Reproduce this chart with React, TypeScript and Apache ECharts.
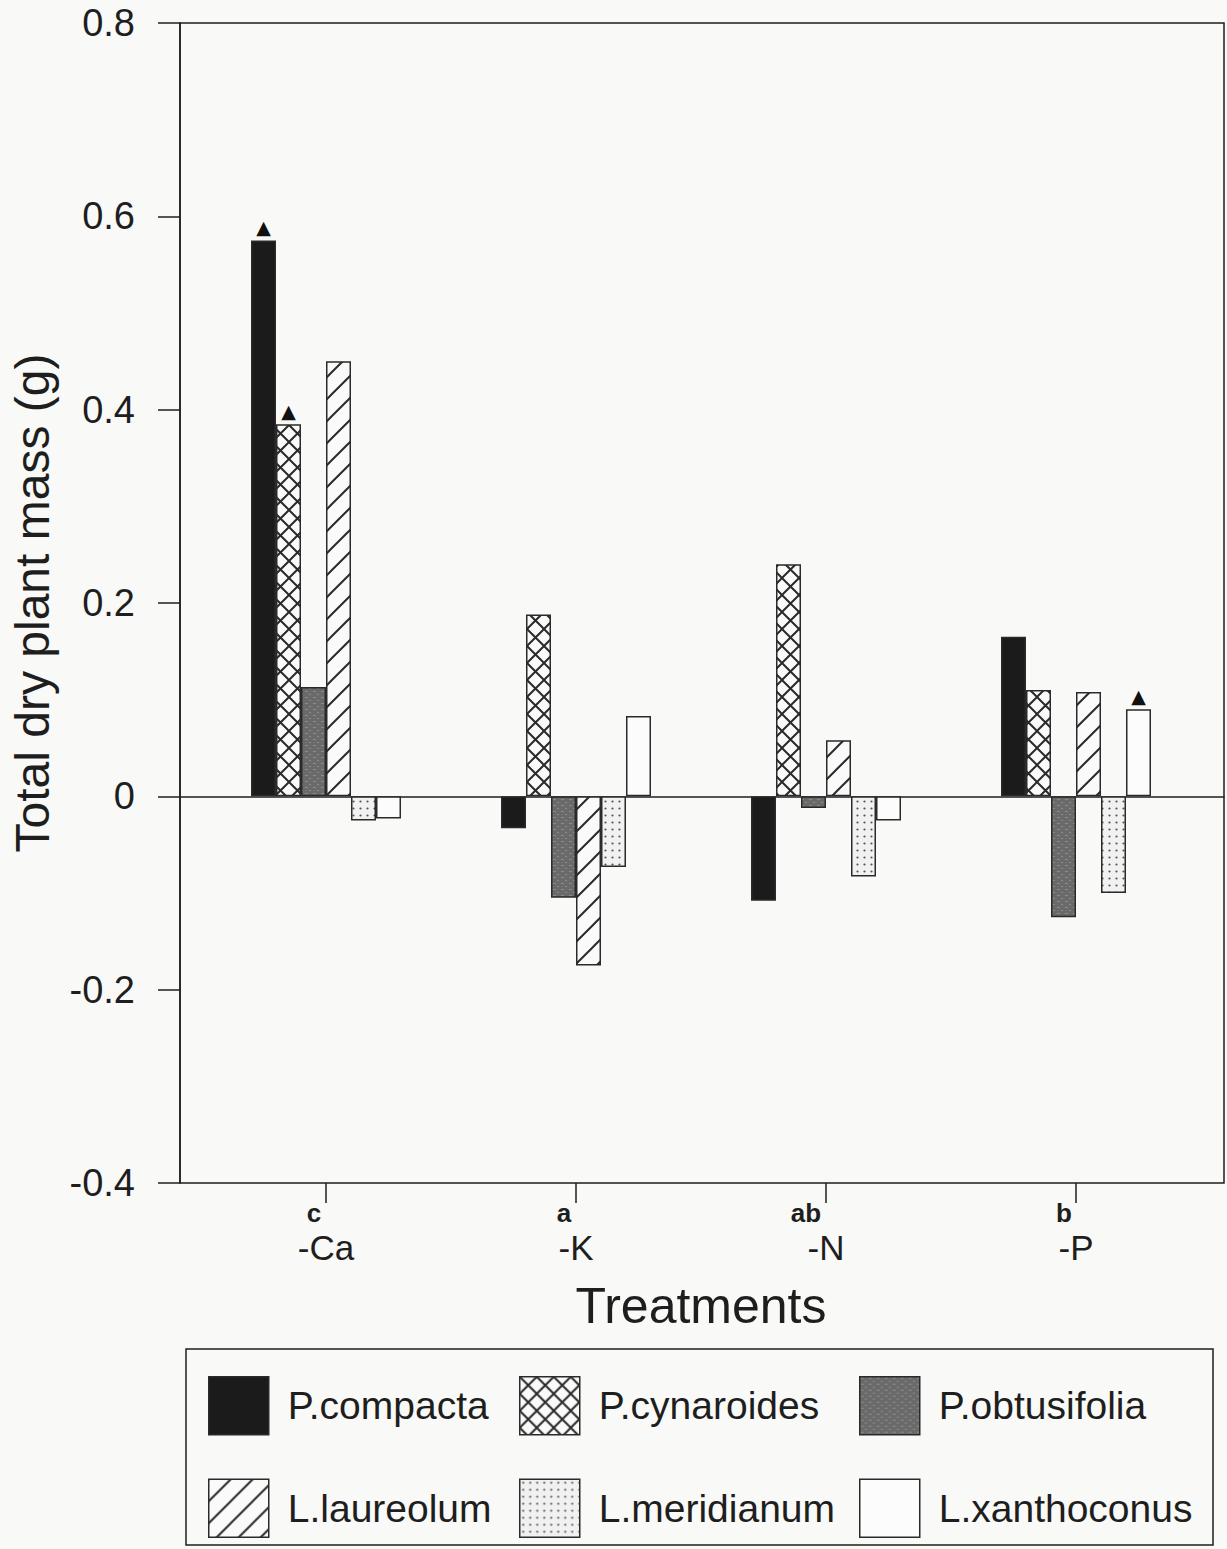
import React, { useEffect, useRef } from 'react';
import * as echarts from 'echarts';

// ---------- data ----------
const categories = ['-Ca', '-K', '-N', '-P'];
const groupLetters = ['c', 'a', 'ab', 'b'];
const speciesNames = ['P.compacta', 'P.cynaroides', 'P.obtusifolia', 'L.laureolum', 'L.meridianum', 'L.xanthoconus'];
const pCompacta = [0.575, -0.033, -0.108, 0.165];
const pCynaroides = [0.385, 0.188, 0.24, 0.11];
const pObtusifolia = [0.113, -0.105, -0.012, -0.125];
const lLaureolum = [0.45, -0.175, 0.058, 0.108];
const lMeridianum = [-0.025, -0.073, -0.083, -0.1];
const lXanthoconus = [-0.023, 0.083, -0.025, 0.09];
const seriesValues = [pCompacta, pCynaroides, pObtusifolia, lLaureolum, lMeridianum, lXanthoconus];
// [seriesIndex, categoryIndex] of bars carrying a triangle marker
const triangleMarks: [number, number][] = [[0, 0], [1, 0], [5, 3]];
const yMin = -0.4;
const yMax = 0.8;
const yStep = 0.2;

const FONT = '"Liberation Sans", Arial, Helvetica, sans-serif';
const INK = '#1e1e1e';
const EDGE = '#2a2a2a';

type Draw = (ctx: CanvasRenderingContext2D, w: number, h: number) => void;
function tile(w: number, h: number, draw: Draw) {
  const c = document.createElement('canvas');
  c.width = w;
  c.height = h;
  const ctx = c.getContext('2d') as CanvasRenderingContext2D;
  draw(ctx, w, h);
  return { image: c, repeat: 'repeat', imageWidth: w, imageHeight: h } as any;
}

function makePatterns() {
  const cross = tile(17, 17, (ctx, w, h) => {
    ctx.fillStyle = '#fafafa';
    ctx.fillRect(0, 0, w, h);
    ctx.strokeStyle = EDGE;
    ctx.lineWidth = 2;
    ctx.beginPath();
    ctx.moveTo(-1, -1); ctx.lineTo(w + 1, h + 1);
    ctx.moveTo(-1, h + 1); ctx.lineTo(w + 1, -1);
    ctx.stroke();
  });
  const gray = tile(8, 6, (ctx, w, h) => {
    ctx.fillStyle = '#6a6a6a';
    ctx.fillRect(0, 0, w, h);
    ctx.fillStyle = '#8c8c8c';
    ctx.fillRect(1, 1, 3, 1);
    ctx.fillRect(5, 4, 2, 1);
  });
  const diag = tile(22, 22, (ctx, w, h) => {
    ctx.fillStyle = '#fafafa';
    ctx.fillRect(0, 0, w, h);
    ctx.strokeStyle = EDGE;
    ctx.lineWidth = 2;
    ctx.beginPath();
    ctx.moveTo(-2, h + 2); ctx.lineTo(w + 2, -2);
    ctx.moveTo(-2, 2); ctx.lineTo(2, -2);
    ctx.moveTo(w - 2, h + 2); ctx.lineTo(w + 2, h - 2);
    ctx.stroke();
  });
  const dots = tile(7, 7, (ctx, w, h) => {
    ctx.fillStyle = '#f1f1f1';
    ctx.fillRect(0, 0, w, h);
    ctx.fillStyle = '#555';
    ctx.beginPath();
    ctx.arc(3.5, 3.5, 1.1, 0, Math.PI * 2);
    ctx.fill();
  });
  return ['#1b1b1b', cross, gray, diag, dots, '#fcfcfc'];
}

export default function App() {
  const ref = useRef<HTMLDivElement>(null);
  useEffect(() => {
    if (!ref.current) return;
    const chart = echarts.init(ref.current, undefined, { renderer: 'svg' });
    const fills = makePatterns();
    const axisLine = { color: INK, width: 1.5 };

    const series = speciesNames.map((name, si) => ({
      type: 'bar',
      name,
      xAxisIndex: 1,
      yAxisIndex: 1,
      barGap: '0%',
      barCategoryGap: '40%',
      itemStyle: { color: fills[si], borderColor: EDGE, borderWidth: 1.5 },
      data: seriesValues[si].map((v, ci) =>
        triangleMarks.some(([s, c]) => s === si && c === ci)
          ? {
              value: v,
              label: {
                show: true,
                position: 'top',
                distance: 4,
                formatter: '▲',
                fontFamily: '"DejaVu Sans", sans-serif',
                fontSize: 19,
                color: '#111',
              },
            }
          : v
      ),
    }));

    const legendBase = {
      orient: 'vertical',
      icon: 'rect',
      padding: 0,
      itemWidth: 60,
      itemHeight: 58,
      itemGap: 43,
      selectedMode: false,
      itemStyle: { borderColor: EDGE, borderWidth: 1.5 },
      textStyle: { fontFamily: FONT, fontSize: 39, color: INK, padding: [0, 0, 0, 14] },
    };

    chart.setOption({
      animation: false,
      backgroundColor: '#f9f9f7',
      textStyle: { fontFamily: FONT },
      grid: [
        { left: 178, right: 3, top: 23, bottom: 366, show: true, borderColor: INK, borderWidth: 1.5, backgroundColor: 'transparent' },
        { left: 201, right: 26, top: 23, bottom: 366 },
      ],
      xAxis: [
        {
          gridIndex: 0,
          type: 'value',
          min: 0,
          max: 1,
          axisLine: { show: true, onZero: true, lineStyle: axisLine },
          axisTick: { show: false },
          axisLabel: { show: false },
          splitLine: { show: false },
        },
        {
          gridIndex: 1,
          type: 'category',
          data: categories,
          axisLine: { show: false, onZero: false },
          axisTick: { show: true, alignWithLabel: true, length: 20, lineStyle: axisLine },
          axisLabel: {
            margin: 18,
            color: INK,
            formatter: (val: string, idx: number) => {
              const l = groupLetters[idx];
              return `{s|${l}}{${l.length > 1 ? 'g2' : 'g1'}| }\n{m|${val}}`;
            },
            rich: {
              s: { fontFamily: FONT, fontSize: 26, fontWeight: 'bold', color: INK, lineHeight: 23 },
              g1: { width: 24, lineHeight: 23 },
              g2: { width: 40, lineHeight: 23 },
              m: { fontFamily: FONT, fontSize: 35, color: INK, lineHeight: 46 },
            },
          },
          name: 'Treatments',
          nameLocation: 'middle',
          nameGap: 98,
          nameTextStyle: { fontFamily: FONT, fontSize: 50, color: INK, verticalAlign: 'top' },
        },
      ],
      yAxis: [
        {
          gridIndex: 0,
          type: 'value',
          min: yMin,
          max: yMax,
          interval: yStep,
          axisLine: { show: true, lineStyle: axisLine },
          axisTick: { show: true, length: 22, lineStyle: axisLine },
          axisLabel: {
            margin: 45,
            fontFamily: FONT,
            fontSize: 38,
            color: INK,
            formatter: (v: number) => (Math.abs(v) < 1e-9 ? '0' : v.toFixed(1)),
          },
          splitLine: { show: false },
          name: 'Total dry plant mass (g)',
          nameLocation: 'middle',
          nameGap: 124,
          nameTextStyle: { fontFamily: FONT, fontSize: 48, color: INK },
        },
        { gridIndex: 1, type: 'value', min: yMin, max: yMax, interval: yStep, show: false },
      ],
      legend: [
        { ...legendBase, data: [speciesNames[0], speciesNames[3]], left: 208, top: 1376 },
        { ...legendBase, data: [speciesNames[1], speciesNames[4]], left: 519, top: 1376 },
        { ...legendBase, data: [speciesNames[2], speciesNames[5]], left: 859, top: 1376 },
      ],
      graphic: [
        {
          type: 'rect',
          shape: { x: 186, y: 1349, width: 1027, height: 196 },
          style: { fill: 'none', stroke: INK, lineWidth: 1.5 },
          silent: true,
        },
      ],
      series,
    });
    return () => chart.dispose();
  }, []);
  return <div ref={ref} style={{ position: 'absolute', left: 0, top: 0, width: 1227, height: 1549 }} />;
}
